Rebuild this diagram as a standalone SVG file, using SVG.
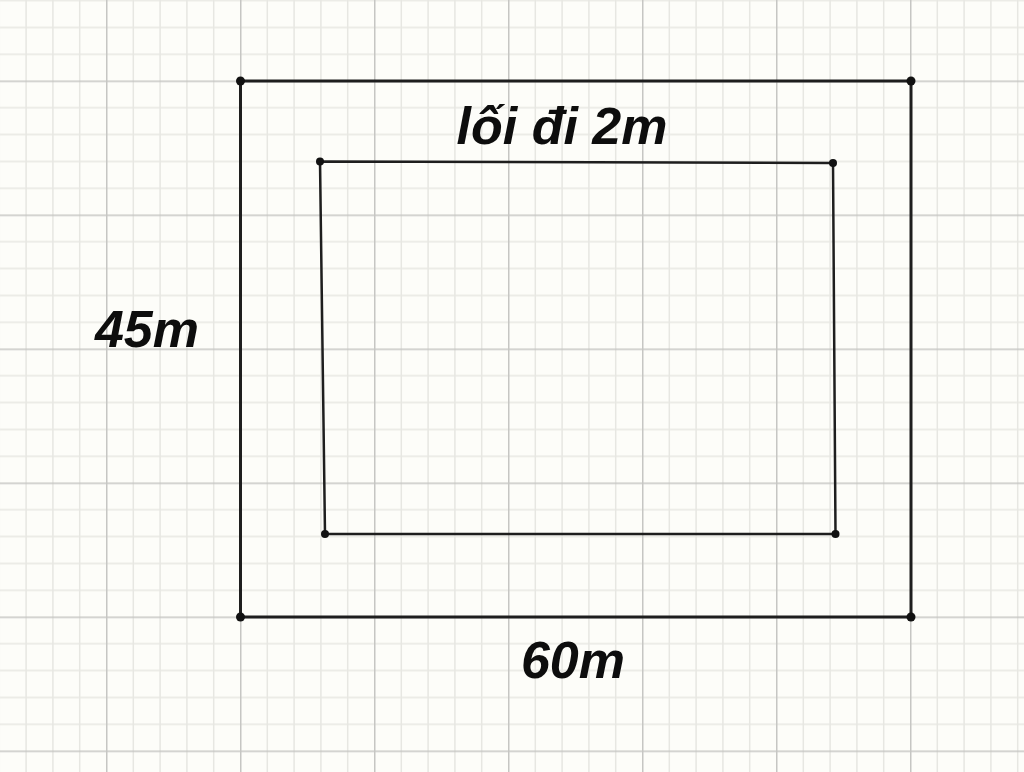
<svg xmlns="http://www.w3.org/2000/svg" width="1024" height="772" viewBox="0 0 1024 772">
  <defs>
    <style>
      .minor { stroke: #e7e7e2; stroke-width: 1.5; }
      .major { stroke: #c6c6c3; stroke-width: 2; }
      .edge { fill: none; stroke: #1e1e1e; stroke-linejoin: round; }
      .dot { fill: #111; }
      .lbl { font-family: "Liberation Sans", Arial, sans-serif; font-weight: bold; font-style: italic; font-size: 52px; fill: #0d0d0d; text-anchor: middle; }
    </style>
    <pattern id="grid" patternUnits="userSpaceOnUse" x="-28" y="-53.5" width="134" height="134">
      <g class="minor">
        <line x1="27.3" y1="0" x2="27.3" y2="134"/>
        <line x1="54.1" y1="0" x2="54.1" y2="134"/>
        <line x1="80.9" y1="0" x2="80.9" y2="134"/>
        <line x1="107.7" y1="0" x2="107.7" y2="134"/>
        <line x1="0" y1="27.3" x2="134" y2="27.3"/>
        <line x1="0" y1="54.1" x2="134" y2="54.1"/>
        <line x1="0" y1="80.9" x2="134" y2="80.9"/>
        <line x1="0" y1="107.7" x2="134" y2="107.7"/>
      </g>
      <g class="major">
        <line x1="0.5" y1="0" x2="0.5" y2="134"/>
        <line x1="0" y1="0.5" x2="134" y2="0.5"/>
      </g>
    </pattern>
  </defs>
  <rect id="background" x="0" y="0" width="1024" height="772" fill="#fdfdf9"/>
  <rect id="grid-paper" x="0" y="0" width="1024" height="772" fill="url(#grid)"/>

  <g id="connectors">
    <polygon class="edge" stroke-width="3" points="240.5,81 911,81 911,617 240.5,617"/>
    <polygon class="edge" stroke-width="2.5" points="320,161.5 833,163 835.5,534 325,534"/>
  </g>

  <g id="outer-field">
    <circle class="dot" cx="240.5" cy="81" r="4.5"/>
    <circle class="dot" cx="911" cy="81" r="4.5"/>
    <circle class="dot" cx="911" cy="617" r="4.5"/>
    <circle class="dot" cx="240.5" cy="617" r="4.5"/>
  </g>

  <g id="inner-field">
    <circle class="dot" cx="320" cy="161.5" r="4"/>
    <circle class="dot" cx="833" cy="163" r="4"/>
    <circle class="dot" cx="835.5" cy="534" r="4"/>
    <circle class="dot" cx="325" cy="534" r="4"/>
  </g>

  <g id="label-path">
    <text class="lbl" x="562" y="144">lối đi 2m</text>
  </g>
  <g id="label-height">
    <text class="lbl" x="147" y="347">45m</text>
  </g>
  <g id="label-width">
    <text class="lbl" x="573" y="678">60m</text>
  </g>
</svg>
